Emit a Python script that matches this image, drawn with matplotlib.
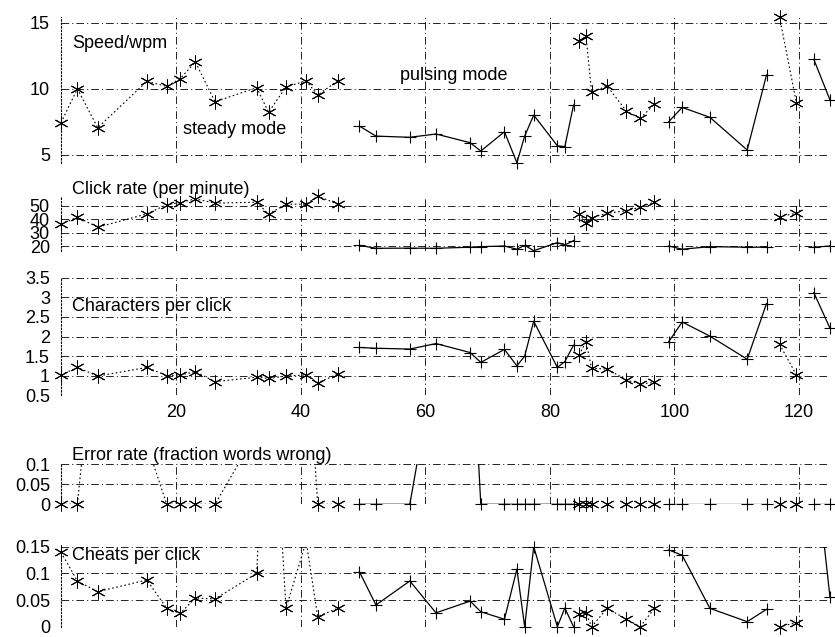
import numpy as np
import matplotlib
matplotlib.use("Agg")
import matplotlib.pyplot as plt

plt.rcParams['font.family'] = ['Liberation Sans', 'DejaVu Sans']
plt.rcParams['lines.scale_dashes'] = False

# ---------------- data ----------------
steady_x = [1.46, 4.09, 7.36, 15.24, 18.45, 20.6, 23.05, 26.2, 32.9, 34.8, 37.6, 40.85, 42.7, 45.9,
            84.7, 85.8, 86.7, 89.2, 92.3, 94.5, 96.8,
            116.9, 119.6]
steady_run = [1]*14 + [2]*7 + [3]*2

pulse_x = [49.4, 52.06, 57.5, 61.7, 67.2, 68.9, 72.7, 74.7, 75.95, 77.4, 81.2, 82.4, 83.8,
           99.1, 101.25, 105.7, 111.7, 114.8,
           122.4, 125.0]
pulse_run = [1]*13 + [2]*5 + [3]*2

steady_speed = [7.43, 10.0, 7.05, 10.56, 10.18, 10.76, 12.02, 9.02, 10.08, 8.22, 10.13, 10.6, 9.52, 10.6,
                13.58, 14.0, 9.75, 10.2, 8.31, 7.76, 8.84, 15.4, 8.94]
pulse_speed = [7.18, 6.42, 6.33, 6.58, 5.92, 5.29, 6.75, 4.41, 6.42, 8.01, 5.69, 5.62, 8.77,
               7.51, 8.59, 7.84, 5.37, 11.04, 12.22, 9.15]

steady_click = [36.4, 41.6, 34.2, 44.1, 51.0, 52.5, 55.3, 52.1, 52.8, 43.9, 51.3, 51.3, 57.5, 51.3,
                44.1, 37.6, 41.3, 44.6, 46.5, 49.0, 53.0, 42.1, 44.6]
pulse_click = [20.7, 18.5, 18.6, 18.5, 19.3, 19.7, 20.2, 17.8, 20.7, 16.7, 22.7, 21.0, 24.2,
               20.2, 17.8, 19.7, 19.3, 19.3, 19.3, 20.2]

steady_cpc = [1.02, 1.21, 0.99, 1.21, 1.0, 1.02, 1.10, 0.85, 0.96, 0.93, 0.99, 1.02, 0.82, 1.04,
              1.53, 1.87, 1.19, 1.17, 0.89, 0.79, 0.83, 1.80, 1.02]
pulse_cpc = [1.72, 1.70, 1.68, 1.82, 1.59, 1.34, 1.67, 1.25, 1.50, 2.39, 1.21, 1.36, 1.78,
             1.87, 2.37, 2.01, 1.42, 2.84, 3.12, 2.21]

steady_err = [0, 0, 0.5, 0.15, 0, 0, 0, 0, 0.18, 0.25, 0.2, 0.45, 0, 0,
              0, 0, 0, 0, 0, 0, 0, 0, 0]
pulse_err = [0, 0, 0, 0.37, 0.5, 0, 0, 0, 0, 0, 0, 0, 0,
             0, 0, 0, 0, 0, 0, 0]

steady_cheat = [0.1395, 0.0857, 0.0657, 0.0876, 0.0345, 0.025, 0.0538, 0.052, 0.1, 0.6, 0.0345, 0.16,
                0.019, 0.0345, 0.023, 0.025, 0.0, 0.0345, 0.014, 0.0, 0.0345, 0.0, 0.0075]
pulse_cheat = [0.103, 0.0407, 0.0857, 0.026, 0.048, 0.028, 0.014, 0.108, 0.0, 0.15, 0.0, 0.035, 0.0,
               0.144, 0.134, 0.0345, 0.0094, 0.0326, 0.33, 0.055]

x_ticks = [20, 40, 60, 80, 100, 120]
panels = [
    dict(title="Speed/wpm", s=steady_speed, p=pulse_speed, yt=[5, 10, 15], lim=None),
    dict(title="Click rate (per minute)", s=steady_click, p=pulse_click, yt=[20, 30, 40, 50], lim=None),
    dict(title="Characters per click", s=steady_cpc, p=pulse_cpc,
         yt=[0.5, 1, 1.5, 2, 2.5, 3, 3.5], lim=(0.5, 3.5)),
    dict(title="Error rate (fraction words wrong)", s=steady_err, p=pulse_err,
         yt=[0, 0.05, 0.1], lim=(0, 0.1)),
    dict(title="Cheats per click", s=steady_cheat, p=pulse_cheat,
         yt=[0, 0.05, 0.1, 0.15], lim=(0, 0.15)),
]
# panel extents in pixels (top, bottom)
extents = [(17.3, 162.7), (195.9, 250.7), (277.7, 395.3), (464.3, 504.3), (546.7, 626.7)]
title_y = [43, 189, 307, 456, 556]

W, H = 835, 637
fig = plt.figure(figsize=(W/100, H/100), dpi=100)
left_px, right_px = 61, 830
FS = 13

all_x = np.array(steady_x + pulse_x)
sx = np.array(steady_x); px = np.array(pulse_x)
srun = np.array(steady_run); prun = np.array(pulse_run)

grid_ls = (0, (5.5, 2.2, 0.8, 2.2))

for i, (pan, (top, bot)) in enumerate(zip(panels, extents)):
    ax = fig.add_axes([left_px/W, 1 - bot/H, (right_px-left_px)/W, (bot-top)/H])
    s = np.array(pan['s'], float); p = np.array(pan['p'], float)
    if pan['lim'] is None:
        both = np.concatenate([s, p])
        lo, hi = both.min(), both.max()
    else:
        lo, hi = pan['lim']
    ax.set_xlim(all_x.min(), all_x.max())
    ax.set_ylim(lo, hi)
    # lines
    for r in np.unique(srun):
        m = srun == r
        ax.plot(sx[m], s[m], color='black', lw=0.8, ls=(0, (1.2, 1.8)))
    for r in np.unique(prun):
        m = prun == r
        ax.plot(px[m], p[m], color='black', lw=0.9, ls='-')
    # markers (only for in-range values, not clipped at the frame)
    ms = (s >= lo - 1e-9) & (s <= hi + 1e-9)
    mp = (p >= lo - 1e-9) & (p <= hi + 1e-9)
    ax.plot(sx[ms], s[ms], ls='none', marker=(6, 2, 0), ms=10, mew=0.7,
            color='black', clip_on=False)
    ax.plot(px[mp], p[mp], ls='none', marker='+', ms=9, mew=0.8,
            color='black', clip_on=False)

    ax.set_yticks(pan['yt'])
    ax.set_yticklabels(['%g' % v for v in pan['yt']])
    ax.set_xticks(x_ticks)
    if i == 2:
        ax.set_xticklabels([str(v) for v in x_ticks])
    else:
        ax.set_xticklabels([])
    ax.tick_params(length=0, labelsize=FS, pad=8)
    ax.tick_params(axis='x', pad=6)
    ax.grid(True, color='black', lw=0.6, ls=grid_ls)
    for sp in ['top', 'right', 'bottom']:
        ax.spines[sp].set_visible(False)
    ax.spines['left'].set_linestyle((0, (1, 1.5)))
    ax.spines['left'].set_linewidth(0.8)
    ax.patch.set_alpha(0)

    fig.text(72/W, 1 - title_y[i]/H, pan['title'], fontsize=FS, va='center', ha='left')

fig.text(183/W, 1 - 129.5/H, "steady mode", fontsize=FS, va='center', ha='left')
fig.text(400/W, 1 - 75.5/H, "pulsing mode", fontsize=FS, va='center', ha='left')

fig.savefig("out.png", dpi=100)
